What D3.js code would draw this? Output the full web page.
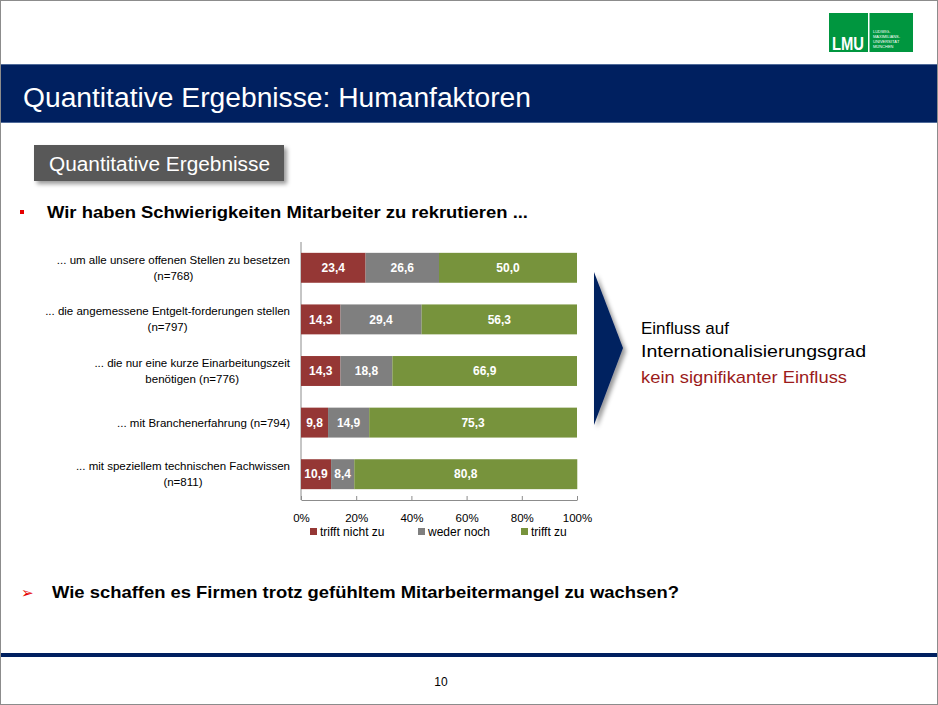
<!DOCTYPE html>
<html>
<head>
<meta charset="utf-8">
<script src="https://cdn.jsdelivr.net/npm/d3@7"></script>
<style>
  body { margin: 0; background: #fff; }
  svg { display: block; font-family: "Liberation Sans", Arial, sans-serif; }
</style>
</head>
<body>
<div id="slide"></div>
<script>
/*chart data*/
var categories = [
  ["... um alle unsere offenen Stellen zu besetzen", "(n=768)"],
  ["... die angemessene Entgelt-forderungen stellen", "(n=797)"],
  ["... die nur eine kurze Einarbeitungszeit", "benötigen (n=776)"],
  ["... mit Branchenerfahrung (n=794)"],
  ["... mit speziellem technischen Fachwissen", "(n=811)"]
];
var trifftNichtZu = [23.4, 14.3, 14.3, 9.8, 10.9];
var wederNoch = [26.6, 29.4, 18.8, 14.9, 8.4];
var trifftZu = [50.0, 56.3, 66.9, 75.3, 80.8];
var seriesNames = ["trifft nicht zu", "weder noch", "trifft zu"];
var seriesColors = ["#953735", "#7f7f7f", "#77933c"];
var xTicks = [0, 20, 40, 60, 80, 100];

var svgWidth = 938;
var svgHeight = 705;
var navy = "#002060";

var svg = d3.select("#slide").append("svg")
  .attr("width", svgWidth)
  .attr("height", svgHeight);

var defs = svg.append("defs");
var shadow = defs.append("filter").attr("id", "shadow")
  .attr("x", "-20%").attr("y", "-20%").attr("width", "150%").attr("height", "150%");
shadow.append("feDropShadow")
  .attr("dx", 3).attr("dy", 3).attr("stdDeviation", 2)
  .attr("flood-color", "#000").attr("flood-opacity", 0.4);

/*squeeze or stretch a text node to a given width*/
function fitText(sel, w) {
  sel.attr("textLength", w).attr("lengthAdjust", "spacingAndGlyphs");
  return sel;
}

/*slide frame*/
svg.append("rect")
  .attr("x", 0.5).attr("y", 0.5)
  .attr("width", svgWidth - 1).attr("height", svgHeight - 1)
  .attr("fill", "#fff").attr("stroke", "#8c8c8c");

/*LMU logo*/
var logo = svg.append("g");
logo.append("rect").attr("x", 829).attr("y", 13).attr("width", 84).attr("height", 39).attr("fill", "#00963f");
logo.append("rect").attr("x", 868).attr("y", 13).attr("width", 1.5).attr("height", 39).attr("fill", "#fff");
fitText(logo.append("text")
  .attr("x", 832).attr("y", 50)
  .attr("fill", "#fff").attr("font-size", 18).attr("font-weight", "bold")
  .text("LMU"), 32);
["LUDWIG-", "MAXIMILIANS-", "UNIVERSITÄT", "MÜNCHEN"].forEach(function(t, i) {
  logo.append("text")
    .attr("x", 873).attr("y", 33 + i * 5)
    .attr("fill", "#fff").attr("font-size", 4)
    .text(t);
});

/*title band*/
svg.append("rect").attr("x", 1).attr("y", 64).attr("width", svgWidth - 2).attr("height", 59).attr("fill", navy);
svg.append("rect").attr("x", 1).attr("y", 64).attr("width", svgWidth - 2).attr("height", 1).attr("fill", "#4f6a99");
svg.append("rect").attr("x", 1).attr("y", 122).attr("width", svgWidth - 2).attr("height", 1).attr("fill", "#4f6a99");
fitText(svg.append("text")
  .attr("x", 23).attr("y", 107)
  .attr("fill", "#fff").attr("font-size", 27)
  .text("Quantitative Ergebnisse: Humanfaktoren"), 508);

/*gray section box*/
svg.append("rect")
  .attr("x", 34).attr("y", 145).attr("width", 250).attr("height", 36)
  .attr("fill", "#595959").attr("filter", "url(#shadow)");
fitText(svg.append("text")
  .attr("x", 49).attr("y", 171)
  .attr("fill", "#fff").attr("font-size", 20)
  .text("Quantitative Ergebnisse"), 221);

/*question heading*/
svg.append("rect").attr("x", 20).attr("y", 210).attr("width", 4).attr("height", 4).attr("fill", "#e60000");
fitText(svg.append("text")
  .attr("x", 47).attr("y", 218)
  .attr("font-size", 17).attr("font-weight", "bold")
  .text("Wir haben Schwierigkeiten Mitarbeiter zu rekrutieren ..."), 481);

/*bar chart*/
var xScale = d3.scaleLinear().domain([0, 100]).range([301, 577]);
var yScale = d3.scaleBand()
  .domain(d3.range(categories.length))
  .range([242, 500])
  .paddingInner(0.42)
  .paddingOuter(0.21);

var rows = categories.map(function(c, i) {
  return { nicht: trifftNichtZu[i], weder: wederNoch[i], zu: trifftZu[i] };
});
var stack = d3.stack().keys(["nicht", "weder", "zu"]);
var stacked = stack(rows);

var chart = svg.append("g");

/*axes*/
var bottomAxis = d3.axisBottom(xScale)
  .tickValues(xTicks)
  .tickSizeInner(-4)
  .tickSizeOuter(0)
  .tickPadding(14)
  .tickFormat(function(d) { return d + "%"; });
var axisG = chart.append("g")
  .attr("transform", "translate(0,500)")
  .call(bottomAxis);
axisG.select(".domain").attr("stroke", "#8c8c8c");
axisG.selectAll(".tick line").attr("stroke", "#8c8c8c");
axisG.selectAll(".tick text")
  .attr("font-family", "Liberation Sans, Arial, sans-serif")
  .attr("font-size", 11.5).attr("fill", "#000");

chart.append("line")
  .attr("x1", xScale(0)).attr("x2", xScale(0))
  .attr("y1", 242).attr("y2", 500)
  .attr("stroke", "#8c8c8c");

/*stacked bars*/
var layers = chart.selectAll(".layer")
  .data(stacked)
  .enter().append("g")
  .attr("class", "layer")
  .attr("fill", function(d, i) { return seriesColors[i]; });

layers.selectAll("rect")
  .data(function(d) { return d; })
  .enter().append("rect")
  .attr("x", function(d) { return xScale(d[0]); })
  .attr("y", function(d, i) { return yScale(i); })
  .attr("width", function(d) { return xScale(d[1]) - xScale(d[0]); })
  .attr("height", yScale.bandwidth());

/*value labels*/
layers.selectAll("text")
  .data(function(d) { return d; })
  .enter().append("text")
  .attr("x", function(d) { return (xScale(d[0]) + xScale(d[1])) / 2; })
  .attr("y", function(d, i) { return yScale(i) + yScale.bandwidth() / 2; })
  .attr("dy", "0.35em")
  .attr("text-anchor", "middle")
  .attr("fill", "#fff")
  .attr("font-size", 12)
  .attr("font-weight", "bold")
  .text(function(d) { return d3.format(".1f")(d[1] - d[0]).replace(".", ","); });

/*category labels, centred lines ending at the same right edge*/
categories.forEach(function(lines, i) {
  var g = chart.append("g");
  var cy = yScale(i) + yScale.bandwidth() / 2;
  var texts = lines.map(function(t, j) {
    return g.append("text")
      .attr("y", cy + (j - (lines.length - 1) / 2) * 16)
      .attr("dy", "0.35em")
      .attr("text-anchor", "middle")
      .attr("font-size", 11.5)
      .text(t);
  });
  var maxW = d3.max(texts, function(t) { return t.node().getComputedTextLength(); });
  texts.forEach(function(t) { t.attr("x", 290 - maxW / 2); });
});

/*legend*/
var legendX = [310, 418, 521];
var legend = chart.selectAll(".legend")
  .data(seriesNames)
  .enter().append("g")
  .attr("class", "legend")
  .attr("transform", function(d, i) { return "translate(" + legendX[i] + ",532)"; });
legend.append("rect")
  .attr("x", 0).attr("y", -4).attr("width", 7).attr("height", 7)
  .attr("fill", function(d, i) { return seriesColors[i]; });
legend.append("text")
  .attr("x", 10).attr("dy", "0.35em")
  .attr("font-size", 12)
  .text(function(d) { return d; });

/*chevron and conclusion*/
svg.append("path")
  .attr("d", "M594,272 L623,348 L594,425 Z")
  .attr("fill", navy)
  .attr("filter", "url(#shadow)");
svg.append("text")
  .attr("x", 641).attr("y", 334)
  .attr("font-size", 17)
  .text("Einfluss auf");
fitText(svg.append("text")
  .attr("x", 641).attr("y", 357)
  .attr("font-size", 17)
  .text("Internationalisierungsgrad"), 225);
fitText(svg.append("text")
  .attr("x", 641).attr("y", 383)
  .attr("font-size", 17).attr("fill", "#9b1b1b")
  .text("kein signifikanter Einfluss"), 206);

/*bottom question*/
svg.append("text")
  .attr("x", 21).attr("y", 598)
  .attr("font-size", 15).attr("fill", "#e60000")
  .attr("font-family", "DejaVu Sans")
  .text("➢");
fitText(svg.append("text")
  .attr("x", 52).attr("y", 598)
  .attr("font-size", 17).attr("font-weight", "bold")
  .text("Wie schaffen es Firmen trotz gefühltem Mitarbeitermangel zu wachsen?"), 627);

/*footer*/
svg.append("rect").attr("x", 1).attr("y", 653).attr("width", svgWidth - 2).attr("height", 4).attr("fill", navy);
svg.append("text")
  .attr("x", 441).attr("y", 686)
  .attr("text-anchor", "middle")
  .attr("font-size", 12)
  .text("10");
</script>
</body>
</html>
